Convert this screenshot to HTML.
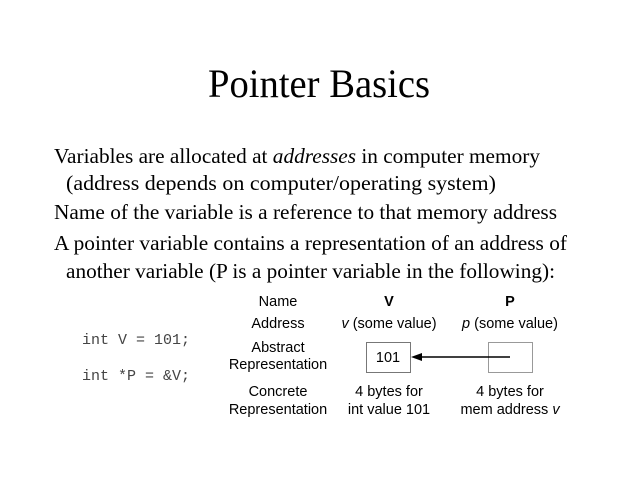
<!DOCTYPE html>
<html><head><meta charset="utf-8"><style>html,body{margin:0;padding:0;background:#fff}svg{display:block}</style></head>
<body>
<svg width="640" height="480" viewBox="0 0 640 480" xmlns="http://www.w3.org/2000/svg">
<rect width="640" height="480" fill="#fff"/>
<g font-family="Liberation Serif, serif" fill="#000">
<text x="208" y="97" font-size="40" textLength="222" lengthAdjust="spacingAndGlyphs">Pointer Basics</text>
<text x="54" y="163" font-size="21.5" textLength="486" lengthAdjust="spacingAndGlyphs">Variables are allocated at <tspan font-style="italic">addresses</tspan> in computer memory</text>
<text x="66" y="190" font-size="21.5" textLength="430" lengthAdjust="spacingAndGlyphs">(address depends on computer/operating system)</text>
<text x="54" y="219" font-size="21.5" textLength="503" lengthAdjust="spacingAndGlyphs">Name of the variable is a reference to that memory address</text>
<text x="54" y="250" font-size="21.5" textLength="513" lengthAdjust="spacingAndGlyphs">A pointer variable contains a representation of an address of</text>
<text x="66" y="278" font-size="21.5" textLength="489" lengthAdjust="spacingAndGlyphs">another variable (P is a pointer variable in the following):</text>
</g>
<g font-family="Liberation Mono, monospace" font-size="14.5" fill="#444">
<text x="82" y="344" textLength="108" lengthAdjust="spacingAndGlyphs">int V = 101;</text>
<text x="82" y="380" textLength="108" lengthAdjust="spacingAndGlyphs">int *P = &amp;V;</text>
</g>
<g font-family="Liberation Sans, sans-serif" font-size="14.5" fill="#000" text-anchor="middle">
<text x="278" y="306">Name</text>
<text x="389" y="306" font-weight="bold">V</text>
<text x="510" y="306" font-weight="bold">P</text>
<text x="278" y="328">Address</text>
<text x="389" y="328"><tspan font-style="italic">v</tspan> (some value)</text>
<text x="510" y="328"><tspan font-style="italic">p</tspan> (some value)</text>
<text x="278" y="352">Abstract</text>
<text x="278" y="369">Representation</text>
<text x="388" y="362">101</text>
<text x="278" y="396">Concrete</text>
<text x="278" y="414">Representation</text>
<text x="389" y="396">4 bytes for</text>
<text x="389" y="414">int value 101</text>
<text x="510" y="396">4 bytes for</text>
<text x="510" y="414">mem address <tspan font-style="italic">v</tspan></text>
</g>
<rect x="366.5" y="342.5" width="44" height="30" fill="none" stroke="#777" stroke-width="1"/>
<rect x="488.5" y="342.5" width="44" height="30" fill="none" stroke="#999" stroke-width="1"/>
<line x1="510" y1="357" x2="420" y2="357" stroke="#000" stroke-width="1.5"/>
<polygon points="411,357 422,353 422,361" fill="#000"/>
</svg>
</body></html>
